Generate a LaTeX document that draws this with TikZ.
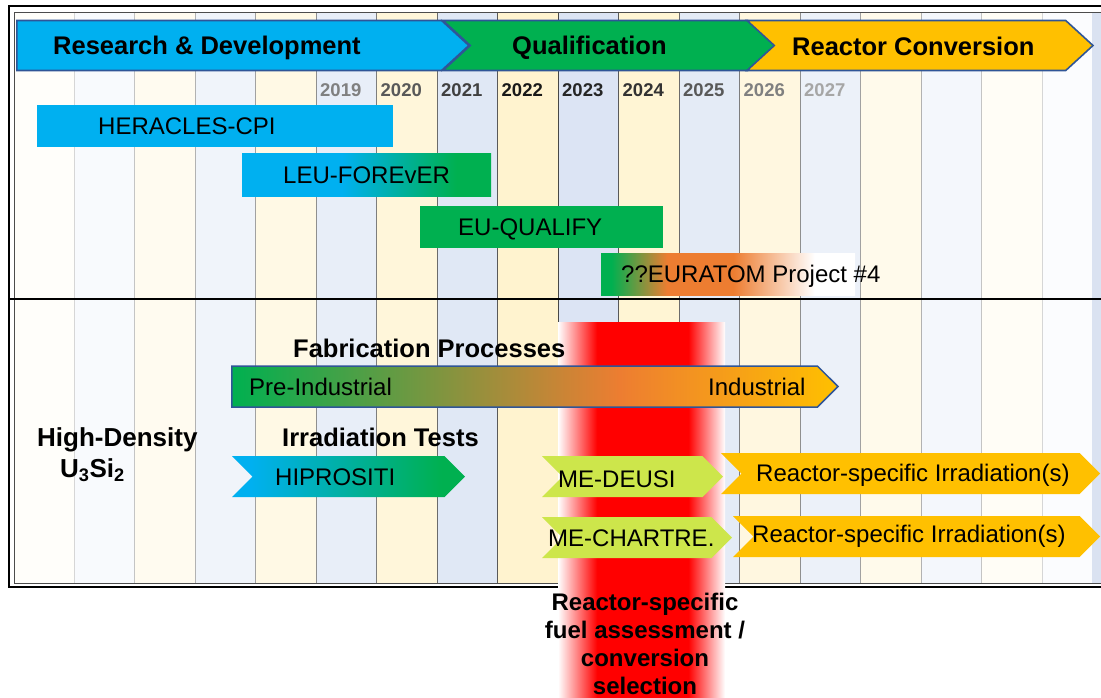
\documentclass[tikz,border=0pt]{standalone}
\usepackage{fontspec}
\setmainfont{Liberation Sans}
\usetikzlibrary{shapes.symbols,positioning}

\definecolor{rdblue}{HTML}{00B0F0}
\definecolor{qgreen}{HTML}{00B050}
\definecolor{convgold}{HTML}{FFC000}
\definecolor{euorange}{HTML}{ED7D31}
\definecolor{melime}{HTML}{CDE64B}
\definecolor{edgeblue}{HTML}{2F5597}
\definecolor{colblue}{HTML}{4472C4}
\definecolor{stripblue}{HTML}{DAE2F1}

% path box sits on 25bp..75bp of each shading
\pgfdeclarehorizontalshading{leushade}{100bp}{color(0bp)=(rdblue); color(45bp)=(rdblue); color(68bp)=(qgreen); color(100bp)=(qgreen)}
\pgfdeclarehorizontalshading{euratomshade}{100bp}{color(0bp)=(qgreen); color(27bp)=(qgreen); color(38bp)=(euorange); color(51bp)=(euorange); color(67bp)=(white); color(100bp)=(white)}
\pgfdeclarehorizontalshading{fabshade}{100bp}{color(0bp)=(qgreen); color(25bp)=(qgreen); color(57bp)=(euorange); color(75bp)=(convgold); color(100bp)=(convgold)}
\pgfdeclarehorizontalshading{hiproshade}{100bp}{color(0bp)=(rdblue); color(29bp)=(rdblue); color(70bp)=(qgreen); color(100bp)=(qgreen)}
\pgfdeclarehorizontalshading{redband}{100bp}{color(0bp)=(white); color(25bp)=(white); color(36.7bp)=(red); color(64bp)=(red); color(75bp)=(white); color(100bp)=(white)}

\begin{document}
\begin{tikzpicture}[x=1pt, y=-1pt,
    phase/.style={signal, signal to=east, signal pointer angle=85, draw=edgeblue, line width=1.6pt, minimum height=50, inner sep=0},
    bar/.style={rectangle, inner sep=0, minimum height=42, anchor=north west},
    chev/.style={signal, signal from=west, signal to=east, signal pointer angle=90, inner sep=0, minimum height=41},
    lbl/.style={font=\fontsize{24}{28}\selectfont, inner sep=0, anchor=base west},
    head/.style={font=\bfseries\fontsize{25.5}{30}\selectfont, inner sep=0, anchor=base west},
    yr/.style={font=\bfseries\fontsize{18.5}{22}\selectfont, inner sep=0, anchor=base west}]

    \path[use as bounding box, fill=white] (0,0) rectangle (1101,697);
    \clip (0,0) rectangle (1101,697);

    % year columns
    \foreach \j in {0,...,17} {
        \pgfmathsetmacro\t{max(2,20-2.2*abs(\j-8.5))}
        \pgfmathsetmacro\xa{\j==0 ? 14 : 74+60.5*(\j-1)}
        \pgfmathsetmacro\xb{min(1092,74+60.5*\j)}
        \ifodd\j
            \fill[colblue!\t!white] (\xa,12) rectangle (\xb,583);
        \else
            \fill[convgold!\t!white] (\xa,12) rectangle (\xb,583);
        \fi
    }
    \fill[stripblue] (1092,12) rectangle (1101,583);
    \foreach \k in {0,...,16} {
        \pgfmathsetmacro\g{max(14,72-7*abs(\k-8))}
        \draw[black!\g, line width=0.8pt] ({74+60.5*\k},12) -- ({74+60.5*\k},583);
    }

    % frame
    \draw[black!70, line width=0.8pt] (14,12) rectangle (1120,583);
    \draw[black, line width=2.4pt] (9,6) rectangle (1120,587);
    \draw[black, line width=1.5pt] (9,299) -- (1120,299);

    \shade[shading=redband] (558,322) rectangle (725,700);

    % phases
    \node[phase, anchor=east, fill=rdblue, minimum width=452] (rd) at (470,45.5) {};
    \node[phase, signal from=west, fill=qgreen, minimum width=332] (qual) at (609,45.5) {};
    \node[phase, signal from=west, fill=convgold, minimum width=346] (conv) at (920,45.5) {};
    \node[head] (rdtxt) at (53,54) {Research \& Development};
    \node[head] (qualtxt) at (512,54) {Qualification};
    \node[head] (convtxt) at (792,55) {Reactor Conversion};

    \foreach \yr/\k/\c in {2019/4/50,2020/5/65,2021/6/75,2022/7/90,2023/8/85,2024/9/80,2025/10/65,2026/11/50,2027/12/35}
        \node[yr, text=black!\c] (y\yr) at ({74+60.5*\k+4},96) {\yr};

    % projects
    \node[bar, fill=rdblue, minimum width=356] (heracles) at (37,105) {};
    \node[bar, shading=leushade, minimum width=249, minimum height=43] (leu) at (242,153) {};
    \node[bar, fill=qgreen, minimum width=243] (euq) at (420,206) {};
    \node[bar, shading=euratomshade, minimum width=254] (euratom) at (601,253) {};
    \node[lbl] (heraclestxt) at (98,134) {HERACLES-CPI};
    \node[lbl] (leutxt) at (283,183) {LEU-FOREvER};
    \node[lbl] (euqtxt) at (458,235.5) {EU-QUALIFY};
    \node[lbl] (euratomtxt) at (621,282.5) {??EURATOM Project \#4};

    % U3Si2 part
    \node[head] (fabtxt) at (293,357) {Fabrication Processes};
    \node[signal, signal to=east, signal pointer angle=90, inner sep=0, anchor=east, draw=edgeblue, line width=1.5pt, shading=fabshade, minimum width=606, minimum height=41] (fab) at (839,386.5) {};
    \node[lbl] (pretxt) at (249,395) {Pre-Industrial};
    \node[lbl] (indtxt) at (708,395) {Industrial};

    \node[head, font=\bfseries\fontsize{26}{30}\selectfont] (hd) at (37,446) {High-Density};
    \node[head, font=\bfseries\fontsize{26}{30}\selectfont] (u3si2) at (60,477) {U\textsubscript{3}Si\textsubscript{2}};
    \node[head] (irrtxt) at (282,446) {Irradiation Tests};

    \node[chev, shading=hiproshade, minimum width=233] (hipro) at (348.5,476.5) {};
    \node[chev, fill=melime, minimum width=181] (deusi) at (632.5,476.5) {};
    \node[chev, fill=convgold, minimum width=379] (rsone) at (910.5,473.5) {};
    \node[chev, fill=melime, minimum width=190] (chartre) at (637,537.5) {};
    \node[chev, fill=convgold, minimum width=367] (rstwo) at (916.5,536.5) {};
    \node[lbl] (hiprotxt) at (275,485) {HIPROSITI};
    \node[lbl] (deusitxt) at (558,487) {ME-DEUSI};
    \node[lbl] (rsonetxt) at (756,481) {Reactor-specific Irradiation(s)};
    \node[lbl] (chartretxt) at (548,546) {ME-CHARTRE.};
    \node[lbl] (rstwotxt) at (752,542) {Reactor-specific Irradiation(s)};

    \node[font=\bfseries\fontsize{24}{28}\selectfont, align=center, inner sep=0, anchor=north] (assess) at (645,592.5) {Reactor-specific\\fuel assessment /\\conversion\\selection};
\end{tikzpicture}
\end{document}
